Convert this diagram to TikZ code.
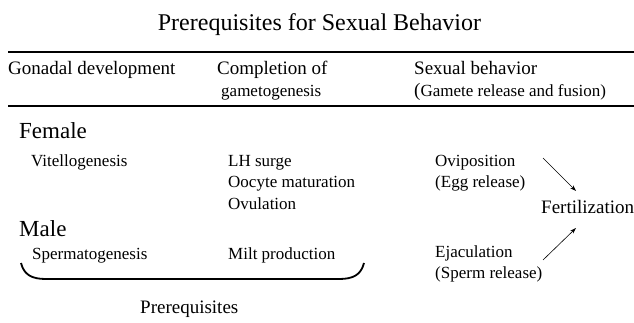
\documentclass[tikz,border=0pt]{standalone}
\usepackage{fontspec}
\setmainfont{Liberation Serif}
\usetikzlibrary{arrows.meta}
\begin{document}
\begin{tikzpicture}[x=1pt,y=-1pt,
  txt/.style={anchor=base west,inner sep=0pt,font=\fontsize{17}{20}\selectfont},
  head/.style={anchor=base west,inner sep=0pt,font=\fontsize{19}{22}\selectfont},
  big/.style={anchor=base west,inner sep=0pt,font=\fontsize{23}{26}\selectfont},
  rulebar/.style={line width=2pt},
  arr/.style={-{Stealth[length=6pt,width=4pt]},line width=0.6pt}]
\useasboundingbox (0,0) rectangle (634,323);
\node[anchor=base,inner sep=0pt,font=\fontsize{24}{28}\selectfont] (title) at (319.5,31) {Prerequisites for Sexual Behavior};
\coordinate (r1a) at (8,52); \coordinate (r1b) at (634,52);
\coordinate (r2a) at (8,106); \coordinate (r2b) at (634,106);
\draw[rulebar] (r1a) -- (r1b);
\draw[rulebar] (r2a) -- (r2b);
% headers
\node[head] (h1) at (8,75) {Gonadal development};
\node[head] (h2) at (217,75) {Completion of};
\node[txt] (h2b) at (221,97) {gametogenesis};
\node[head] (h3) at (414,75) {Sexual behavior};
\node[txt] (h3b) at (414,97) {{\fontsize{19}{22}\selectfont(}Gamete release and fusion)};
% female
\node[big] (female) at (19,139) {Female};
\node[txt] (vit) at (31,167) {Vitellogenesis};
\node[txt] (lh) at (228,167) {LH surge};
\node[txt] (oocyte) at (228,188) {Oocyte maturation};
\node[txt] (ovul) at (228,209) {Ovulation};
\node[txt] (ovip) at (435,167) {Oviposition};
\node[txt] (egg) at (435,188) {(Egg release)};
% fertilization
\node[anchor=base west,inner sep=0pt,font=\fontsize{19}{22}\selectfont] (fert) at (541,213) {Fertilization};
% male
\node[big] (male) at (19,236) {Male};
\node[txt] (sperm) at (32,259) {Spermatogenesis};
\node[txt] (milt) at (228,259) {Milt production};
\node[txt] (ejac) at (435,257) {Ejaculation};
\node[txt] (sprel) at (435,278) {(Sperm release)};
% arrows
\coordinate (a1s) at (543,158); \coordinate (a1e) at (576,191);
\coordinate (a2s) at (543,260); \coordinate (a2e) at (576,228);
\draw[arr] (a1s) -- (a1e);
\draw[arr] (a2s) -- (a2e);
% brace
\coordinate (bl) at (21,263); \coordinate (br) at (364,263);
\draw[line width=1.8pt] (bl) .. controls (24,275) and (32,279) .. (46,279) -- (339,279) .. controls (353,279) and (361,275) .. (br);
\node[anchor=base west,inner sep=0pt,font=\fontsize{19}{22}\selectfont] (prereq) at (140,313) {Prerequisites};
\end{tikzpicture}
\end{document}
